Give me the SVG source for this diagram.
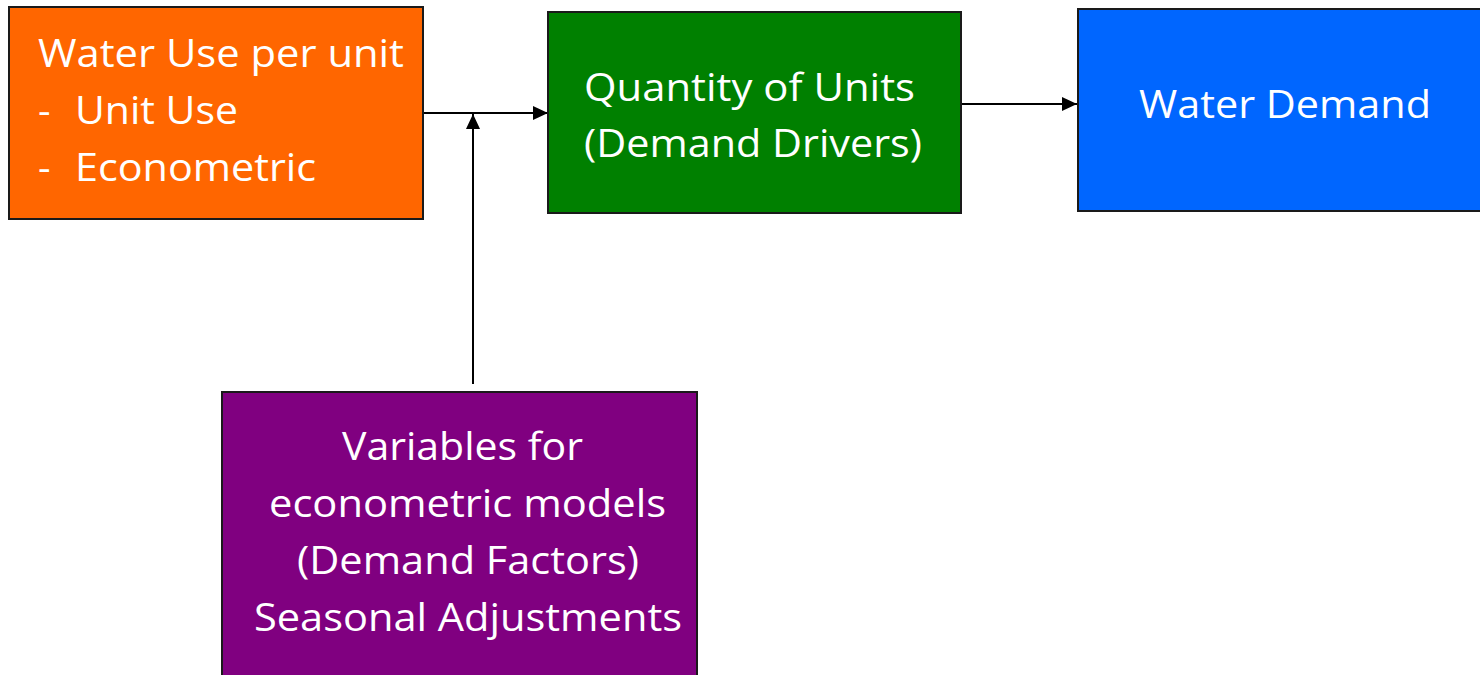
<svg xmlns="http://www.w3.org/2000/svg" width="1480" height="675" viewBox="0 0 1480 675">
  <defs>
    <marker id="arrow" viewBox="0 0 15 14" refX="15" refY="7" markerWidth="15" markerHeight="14" markerUnits="userSpaceOnUse" orient="auto">
      <path d="M0,0 L15,7 L0,14 Z" fill="#000"/>
    </marker>
    <style>
      .box { stroke: #1a1a1a; stroke-width: 2; }
      .lbl { font-family: "Open Sans", "Noto Sans", sans-serif; font-size: 39px; fill: #fff; }
      .edge { stroke: #000; stroke-width: 2; fill: none; }
    </style>
  </defs>
  <rect width="1480" height="675" fill="#fff"/>

  <g id="connectors">
    <line class="edge" x1="422" y1="113" x2="548" y2="113" marker-end="url(#arrow)"/>
    <line class="edge" x1="473" y1="384" x2="473" y2="114" marker-end="url(#arrow)"/>
    <line class="edge" x1="962" y1="104" x2="1077" y2="104" marker-end="url(#arrow)"/>
  </g>

  <g id="water-use">
    <rect class="box" x="9" y="7" width="414" height="212" fill="#FF6600"/>
    <text class="lbl" x="38" y="67" textLength="366" lengthAdjust="spacingAndGlyphs">Water Use per unit</text>
    <text class="lbl" x="38" y="124">-</text>
    <text class="lbl" x="75" y="124" textLength="163" lengthAdjust="spacingAndGlyphs">Unit Use</text>
    <text class="lbl" x="38" y="181">-</text>
    <text class="lbl" x="75" y="181" textLength="241" lengthAdjust="spacingAndGlyphs">Econometric</text>
  </g>

  <g id="quantity">
    <rect class="box" x="548" y="12" width="413" height="201" fill="#008000"/>
    <text class="lbl" x="584" y="101" textLength="331" lengthAdjust="spacingAndGlyphs">Quantity of Units</text>
    <text class="lbl" x="584" y="157" textLength="338" lengthAdjust="spacingAndGlyphs">(Demand Drivers)</text>
  </g>

  <g id="water-demand">
    <rect class="box" x="1078" y="9" width="404" height="202" fill="#0066FF"/>
    <text class="lbl" x="1139" y="118" textLength="292" lengthAdjust="spacingAndGlyphs">Water Demand</text>
  </g>

  <g id="variables">
    <rect class="box" x="222" y="392" width="475" height="290" fill="#800080"/>
    <text class="lbl" x="342" y="460" textLength="241" lengthAdjust="spacingAndGlyphs">Variables for</text>
    <text class="lbl" x="269" y="517" textLength="397" lengthAdjust="spacingAndGlyphs">econometric models</text>
    <text class="lbl" x="297" y="574" textLength="342" lengthAdjust="spacingAndGlyphs">(Demand Factors)</text>
    <text class="lbl" x="254" y="631" textLength="428" lengthAdjust="spacingAndGlyphs">Seasonal Adjustments</text>
  </g>
</svg>
